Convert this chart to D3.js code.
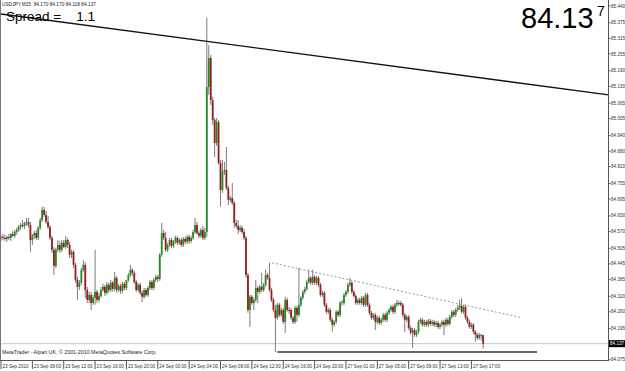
<!DOCTYPE html>
<html><head><meta charset="utf-8">
<script src="https://cdnjs.cloudflare.com/ajax/libs/d3/7.8.5/d3.min.js"></script>
<style>body{margin:0;background:#fff}svg{display:block}text{font-family:"Liberation Sans",Arial,sans-serif}</style>
</head><body><svg id="c" width="625" height="371"></svg>
<script>
const open=[
84.545,84.549,84.545,84.541,84.549,84.545,84.560,84.553,84.568,84.576,
84.587,84.595,84.591,84.603,84.607,84.595,84.537,84.553,84.564,84.545,
84.584,84.614,84.653,84.634,84.607,84.587,84.545,84.499,84.437,84.499,
84.518,84.499,84.526,84.510,84.537,84.518,84.480,84.491,84.441,84.383,
84.356,84.372,84.422,84.441,84.344,84.306,84.325,84.294,84.314,84.337,
84.306,84.321,84.344,84.356,84.333,84.364,84.344,84.372,84.348,84.391,
84.344,84.360,84.341,84.368,84.352,84.383,84.402,84.422,84.410,84.375,
84.344,84.364,84.333,84.318,84.344,84.325,84.352,84.375,84.352,84.383,
84.395,84.387,84.480,84.564,84.545,84.499,84.518,84.537,84.514,84.530,
84.545,84.526,84.537,84.518,84.541,84.530,84.549,84.533,84.545,84.568,
84.595,84.564,84.553,84.576,84.545,84.568,85.127,85.239,85.077,85.000,
84.911,84.992,84.834,84.730,84.800,84.807,84.738,84.692,84.699,84.680,
84.603,84.591,84.576,84.584,84.568,84.545,84.402,84.267,84.318,84.294,
84.306,84.352,84.337,84.356,84.344,84.364,84.402,84.391,84.344,84.306,
84.267,84.237,84.287,84.248,84.267,84.221,84.306,84.267,84.267,84.237,
84.221,84.275,84.248,84.287,84.314,84.337,84.348,84.375,84.391,84.372,
84.395,84.372,84.391,84.364,84.325,84.333,84.287,84.260,84.267,84.229,
84.210,84.221,84.260,84.248,84.294,84.294,84.325,84.337,84.364,84.372,
84.337,84.321,84.294,84.306,84.294,84.314,84.287,84.325,84.287,84.256,
84.237,84.248,84.221,84.237,84.217,84.229,84.248,84.229,84.256,84.267,
84.279,84.260,84.287,84.294,84.294,84.287,84.248,84.229,84.240,84.198,
84.179,84.190,84.171,84.183,84.221,84.229,84.210,84.221,84.210,84.225,
84.213,84.221,84.210,84.217,84.202,84.210,84.221,84.210,84.229,84.213,
84.240,84.260,84.248,84.267,84.275,84.283,84.260,84.279,84.237,84.221,
84.202,84.210,84.183,84.171,84.159,84.171,84.170];
const high=[
84.557,84.560,84.557,84.553,84.560,84.564,84.572,84.576,84.584,84.595,
84.603,84.614,84.607,84.622,84.622,84.607,84.560,84.572,84.576,84.591,
84.622,84.665,84.665,84.649,84.630,84.595,84.553,84.510,84.506,84.537,
84.533,84.537,84.537,84.553,84.545,84.530,84.499,84.499,84.449,84.395,
84.383,84.429,84.460,84.452,84.356,84.337,84.337,84.325,84.499,84.344,
84.333,84.356,84.368,84.364,84.375,84.372,84.383,84.379,84.414,84.398,
84.368,84.368,84.375,84.375,84.383,84.410,84.441,84.429,84.418,84.383,
84.372,84.372,84.341,84.352,84.352,84.360,84.383,84.383,84.391,84.402,
84.402,84.487,84.603,84.576,84.568,84.526,84.545,84.545,84.537,84.553,
84.553,84.545,84.545,84.549,84.549,84.557,84.557,84.553,84.576,84.622,
84.607,84.572,84.584,84.591,84.584,85.394,85.289,85.251,85.089,85.008,
85.008,85.000,84.846,84.846,84.838,84.896,84.746,84.707,84.757,84.688,
84.614,84.614,84.595,84.591,84.580,84.553,84.410,84.325,84.325,84.314,
84.383,84.360,84.364,84.410,84.372,84.422,84.410,84.449,84.352,84.314,
84.287,84.294,84.294,84.275,84.275,84.318,84.314,84.279,84.275,84.244,
84.283,84.283,84.429,84.321,84.344,84.356,84.383,84.422,84.398,84.422,
84.402,84.398,84.398,84.372,84.341,84.341,84.294,84.275,84.275,84.237,
84.229,84.267,84.267,84.302,84.306,84.333,84.344,84.372,84.391,84.379,
84.344,84.329,84.314,84.314,84.321,84.321,84.333,84.333,84.294,84.263,
84.256,84.256,84.244,84.244,84.237,84.256,84.256,84.263,84.275,84.287,
84.287,84.294,84.306,84.302,84.302,84.294,84.256,84.248,84.248,84.206,
84.198,84.198,84.190,84.229,84.237,84.237,84.229,84.229,84.233,84.233,
84.229,84.229,84.225,84.225,84.217,84.229,84.229,84.237,84.237,84.248,
84.267,84.267,84.275,84.287,84.306,84.314,84.287,84.287,84.244,84.229,
84.217,84.217,84.190,84.179,84.179,84.175,84.170];
const low=[
84.533,84.537,84.533,84.530,84.537,84.533,84.549,84.545,84.557,84.568,
84.576,84.584,84.580,84.591,84.584,84.491,84.518,84.541,84.537,84.537,
84.576,84.607,84.626,84.599,84.580,84.537,84.487,84.402,84.429,84.491,
84.487,84.491,84.506,84.503,84.506,84.468,84.468,84.429,84.372,84.306,
84.344,84.364,84.414,84.314,84.294,84.294,84.267,84.287,84.287,84.294,
84.298,84.314,84.337,84.321,84.325,84.333,84.337,84.337,84.341,84.333,
84.337,84.329,84.333,84.344,84.344,84.375,84.395,84.398,84.368,84.337,
84.337,84.325,84.298,84.310,84.318,84.318,84.344,84.344,84.344,84.375,
84.375,84.379,84.472,84.537,84.491,84.491,84.510,84.506,84.506,84.522,
84.518,84.518,84.510,84.510,84.522,84.522,84.522,84.526,84.537,84.560,
84.557,84.545,84.545,84.537,84.537,84.549,85.097,85.058,84.981,84.857,
84.900,84.827,84.665,84.719,84.788,84.730,84.672,84.684,84.672,84.584,
84.584,84.560,84.568,84.560,84.537,84.391,84.256,84.202,84.287,84.267,
84.298,84.294,84.329,84.337,84.337,84.356,84.383,84.337,84.298,84.260,
84.105,84.229,84.240,84.240,84.213,84.179,84.260,84.252,84.229,84.213,
84.213,84.221,84.240,84.279,84.306,84.329,84.341,84.368,84.364,84.364,
84.364,84.364,84.356,84.318,84.318,84.279,84.252,84.252,84.221,84.183,
84.202,84.213,84.240,84.240,84.283,84.287,84.318,84.329,84.356,84.329,
84.314,84.287,84.287,84.287,84.287,84.279,84.279,84.279,84.248,84.229,
84.229,84.190,84.213,84.210,84.210,84.221,84.221,84.221,84.248,84.260,
84.252,84.252,84.279,84.283,84.279,84.240,84.183,84.221,84.190,84.171,
84.121,84.163,84.163,84.175,84.213,84.202,84.202,84.202,84.202,84.206,
84.206,84.202,84.202,84.194,84.194,84.202,84.171,84.202,84.206,84.206,
84.233,84.240,84.240,84.260,84.267,84.252,84.252,84.229,84.213,84.194,
84.194,84.175,84.144,84.152,84.152,84.150,84.118];
const close=[
84.549,84.545,84.541,84.549,84.545,84.560,84.553,84.568,84.576,84.587,
84.595,84.591,84.603,84.607,84.595,84.537,84.553,84.564,84.545,84.584,
84.614,84.653,84.634,84.607,84.587,84.545,84.499,84.437,84.499,84.518,
84.499,84.526,84.510,84.537,84.518,84.480,84.491,84.441,84.383,84.356,
84.372,84.422,84.441,84.344,84.306,84.325,84.294,84.314,84.337,84.306,
84.321,84.344,84.356,84.333,84.364,84.344,84.372,84.348,84.391,84.344,
84.360,84.341,84.368,84.352,84.383,84.402,84.422,84.410,84.375,84.344,
84.364,84.333,84.318,84.344,84.325,84.352,84.375,84.352,84.383,84.395,
84.387,84.480,84.564,84.545,84.499,84.518,84.537,84.514,84.530,84.545,
84.526,84.537,84.518,84.541,84.530,84.549,84.533,84.545,84.568,84.595,
84.564,84.553,84.576,84.545,84.568,85.127,85.239,85.077,85.000,84.911,
84.992,84.834,84.730,84.800,84.807,84.738,84.692,84.699,84.680,84.603,
84.591,84.576,84.584,84.568,84.545,84.402,84.267,84.318,84.294,84.306,
84.352,84.337,84.356,84.344,84.364,84.402,84.391,84.344,84.306,84.267,
84.237,84.287,84.248,84.267,84.221,84.306,84.267,84.263,84.237,84.221,
84.275,84.248,84.287,84.314,84.337,84.348,84.375,84.391,84.372,84.395,
84.372,84.391,84.364,84.325,84.333,84.287,84.260,84.267,84.229,84.210,
84.221,84.260,84.248,84.294,84.298,84.325,84.337,84.364,84.372,84.337,
84.321,84.294,84.306,84.294,84.314,84.287,84.325,84.287,84.256,84.237,
84.248,84.221,84.237,84.217,84.229,84.248,84.229,84.256,84.267,84.279,
84.260,84.287,84.294,84.290,84.287,84.248,84.229,84.240,84.198,84.179,
84.190,84.171,84.183,84.221,84.229,84.210,84.221,84.210,84.225,84.213,
84.221,84.210,84.217,84.202,84.210,84.221,84.210,84.229,84.213,84.240,
84.260,84.248,84.267,84.275,84.283,84.260,84.279,84.237,84.221,84.202,
84.210,84.183,84.171,84.159,84.171,84.170,84.137];

const priceTicks=[85.440,85.375,85.315,85.255,85.190,85.130,85.065,85.005,84.940,84.880,84.820,84.755,84.695,84.630,84.570,84.505,84.445,84.385,84.320,84.260,84.195,84.075];
const timeLabels=["23 Sep 2010","23 Sep 08:00","23 Sep 12:00","23 Sep 16:00","23 Sep 20:00","24 Sep 00:00","24 Sep 04:00","24 Sep 08:00","24 Sep 12:00","24 Sep 16:00","24 Sep 20:00","27 Sep 01:00","27 Sep 05:00","27 Sep 09:00","27 Sep 13:00","27 Sep 17:00"];
const timeLabelBars=[0,16,32,48,64,80,96,112,128,144,160,176,192,208,224,240];
const symbolInfo="USDJPY,M15  84.170 84.170 84.118 84.137";
const spreadText="Spread =    1.1";
const bidMain="84.13", bidLast="7";
const bidPrice=84.137;
const copyright="MetaTrader - Alpari UK, \u00a9 2001-2010 MetaQuotes Software Corp.";
const mainTrendBars=[0,310], mainTrendPrices=[85.409,85.097];
const dashTrendBars=[138.3,265.8], dashTrendPrices=[84.449,84.237];
const supportBars=[141,273.5], supportPrices=[84.105,84.105];

const W=625,H=371,plotR=608,plotB=360;
const svg=d3.select("#c");
const x=d3.scaleLinear().domain([0,310]).range([1,1+310*1.96]);
const y=d3.scaleLinear().domain([85.463,84.074]).range([0,plotB]);

svg.append("rect").attr("width",W).attr("height",H).attr("fill","#fff");
svg.append("line").attr("x1",0).attr("x2",plotR).attr("y1",y(bidPrice)).attr("y2",y(bidPrice)).attr("stroke","#c8c8c8").attr("stroke-width",1);

const bars=d3.range(open.length);
const g=svg.append("g");
g.selectAll("line.w").data(bars).join("line").attr("class","w")
 .attr("x1",i=>x(i)).attr("x2",i=>x(i)).attr("y1",i=>y(high[i])).attr("y2",i=>y(low[i]))
 .attr("stroke","#7a7a7a").attr("stroke-width",1);
g.selectAll("rect.b").data(bars).join("rect").attr("class","b")
 .attr("x",i=>x(i)-0.9).attr("width",1.8)
 .attr("y",i=>y(Math.max(open[i],close[i])))
 .attr("height",i=>Math.max(0.8,Math.abs(y(open[i])-y(close[i]))))
 .attr("fill",i=>close[i]>open[i]?"#258a25":(close[i]<open[i]?"#981c1c":"#444"));

const line=(bs,ps,opt)=>svg.append("line").attr("x1",x(bs[0])).attr("y1",y(ps[0])).attr("x2",x(bs[1])).attr("y2",y(ps[1]))
  .attr("stroke",opt.c).attr("stroke-width",opt.w).attr("stroke-dasharray",opt.d||null);
line(mainTrendBars,mainTrendPrices,{c:"#111",w:1.3});
line(dashTrendBars,dashTrendPrices,{c:"#8a8a8a",w:0.9,d:"2,2"});
line(supportBars,supportPrices,{c:"#333",w:1.4});

svg.append("line").attr("x1",0.5).attr("x2",0.5).attr("y1",0).attr("y2",plotB).attr("stroke","#777");
svg.append("line").attr("x1",plotR+0.5).attr("x2",plotR+0.5).attr("y1",0).attr("y2",plotB+1).attr("stroke","#555");
svg.append("line").attr("x1",0).attr("x2",plotR+1).attr("y1",plotB+0.5).attr("y2",plotB+0.5).attr("stroke","#555");

const ya=svg.append("g");
priceTicks.forEach(p=>{
  ya.append("line").attr("x1",plotR).attr("x2",plotR+2.5).attr("y1",y(p)).attr("y2",y(p)).attr("stroke","#555");
  ya.append("text").attr("x",plotR+3).attr("y",y(p)+1.6).attr("font-size",4.6).attr("fill","#333").text(p.toFixed(3));
});
ya.append("rect").attr("x",plotR+1).attr("y",y(bidPrice)-3.5).attr("width",16).attr("height",7).attr("fill","#000");
ya.append("text").attr("x",plotR+2).attr("y",y(bidPrice)+1.6).attr("font-size",4.6).attr("fill","#fff").text(bidPrice.toFixed(3));

const xa=svg.append("g");
timeLabels.forEach((t,k)=>{
  const xx=x(timeLabelBars[k]);
  xa.append("line").attr("x1",xx).attr("x2",xx).attr("y1",plotB).attr("y2",plotB+9).attr("stroke","#555");
  xa.append("text").attr("x",xx+1.5).attr("y",plotB+7.5).attr("font-size",4.6).attr("fill","#333").text(t);
});

svg.append("text").attr("x",2).attr("y",6).attr("font-size",4.8).attr("fill","#222").attr("xml:space","preserve").style("white-space","pre").text(symbolInfo);
svg.append("text").attr("x",6).attr("y",21).attr("font-size",13.5).attr("fill","#000").attr("xml:space","preserve").style("white-space","pre").text(spreadText);
svg.append("text").attr("x",521).attr("y",28).attr("font-size",29).attr("fill","#000").text(bidMain);
svg.append("text").attr("x",597).attr("y",16).attr("font-size",14).attr("fill","#000").text(bidLast);
svg.append("text").attr("x",2).attr("y",354).attr("font-size",5.3).attr("fill","#222").text(copyright);
</script></body></html>
